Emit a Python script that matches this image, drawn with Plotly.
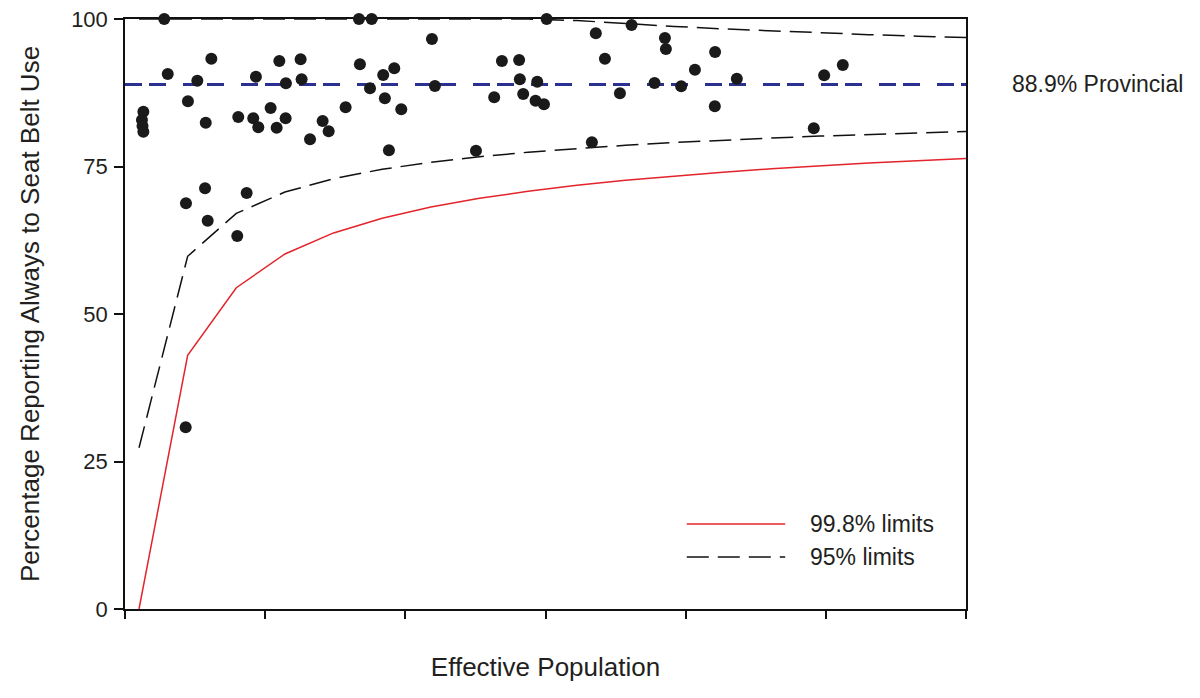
import plotly.graph_objects as go

# ---- data ----
# limit curves sampled along effective population
limit_n = [1, 4.47, 7.94, 11.41, 14.88, 18.35, 21.82, 25.29, 28.76, 32.24,
           35.71, 39.18, 42.65, 46.12, 49.59, 53.06, 56.53, 60]
lower_998 = [0, 42.99, 54.45, 60.17, 63.74, 66.24, 68.12, 69.60, 70.80, 71.81,
             72.66, 73.39, 74.04, 74.61, 75.12, 75.58, 75.99, 76.37]
lower_95 = [27.33, 59.78, 67.05, 70.67, 72.94, 74.53, 75.72, 76.66, 77.42, 78.06,
            78.60, 79.06, 79.47, 79.83, 80.16, 80.45, 80.71, 80.95]
upper_95 = [100, 100, 100, 100, 100, 100, 100, 100, 100, 99.74,
            99.20, 98.74, 98.33, 97.97, 97.64, 97.35, 97.09, 96.85]

provincial_x = [0, 60]
provincial_y = [88.9, 88.9]

# regions: effective population vs percentage always using seat belt
pop = [2.80, 3.05, 5.16, 6.16, 4.49, 5.76, 1.31, 1.21, 1.25, 1.31,
       8.08, 9.34, 9.15, 9.51, 10.39, 11.01, 11.48, 10.82, 11.46, 12.53,
       12.60, 13.20, 14.10, 14.53, 5.71, 4.35, 8.68, 5.90, 8.01, 4.33,
       16.69, 17.60, 21.90, 16.76, 18.42, 19.21, 17.48, 22.11, 18.54, 15.74,
       19.71, 18.83, 25.04, 30.08, 33.59, 36.14, 26.89, 28.12, 34.24, 28.17,
       29.41, 26.34, 28.41, 29.29, 29.89, 35.31, 33.31, 38.52, 38.59, 42.10,
       40.66, 37.78, 39.68, 43.65, 42.08, 49.88, 51.21, 49.14]
pct = [100.0, 90.68, 89.54, 93.27, 86.05, 82.42, 84.29, 82.88, 81.86, 80.90,
       83.39, 90.22, 83.17, 81.64, 84.92, 92.88, 89.10, 81.58, 83.17, 93.17,
       89.78, 79.61, 82.71, 80.97, 71.31, 68.76, 70.51, 65.81, 63.22, 30.80,
       100.0, 100.0, 96.61, 92.32, 90.51, 91.64, 88.25, 88.64, 86.56, 85.03,
       84.69, 77.75, 77.68, 100.0, 97.58, 98.98, 92.88, 93.05, 93.27, 89.78,
       89.37, 86.73, 87.29, 86.15, 85.54, 87.41, 79.10, 96.78, 94.92, 94.41,
       91.41, 89.15, 88.59, 89.88, 85.20, 90.46, 92.20, 81.47]

x_ticks = [0, 10, 20, 30, 40, 50, 60]
y_ticks = [0, 25, 50, 75, 100]

FONT = "Liberation Sans, Arial, Helvetica, sans-serif"
TXT = "#231f20"
RED = "#e3242b"
BLUE = "#2b3190"
DASH_BLACK = "22px,9px"

fig = go.Figure()

fig.add_trace(go.Scatter(x=limit_n, y=lower_998, mode="lines", name="99.8% limits",
                         line=dict(color=RED, width=1.5), showlegend=False))
fig.add_trace(go.Scatter(x=limit_n, y=lower_95, mode="lines", name="95% limits",
                         line=dict(color="#111111", width=1.5, dash=DASH_BLACK),
                         showlegend=False))
fig.add_trace(go.Scatter(x=limit_n, y=upper_95, mode="lines", name="95% limits upper",
                         line=dict(color="#111111", width=1.5, dash=DASH_BLACK),
                         showlegend=False))
fig.add_trace(go.Scatter(x=provincial_x, y=provincial_y, mode="lines", name="Provincial",
                         line=dict(color=BLUE, width=3, dash="17px,7px,17px,17px"),
                         showlegend=False))
fig.add_trace(go.Scatter(x=pop, y=pct, mode="markers", name="Regions",
                         marker=dict(color="#1a1a1a", size=12, line=dict(width=0)),
                         cliponaxis=False, showlegend=False))

# legend drawn manually (long line samples as in the reference)
fig.add_shape(type="line", xref="paper", yref="paper", x0=0.668, x1=0.785,
              y0=0.1441, y1=0.1441, line=dict(color=RED, width=1.5))
fig.add_shape(type="line", xref="paper", yref="paper", x0=0.668, x1=0.785,
              y0=0.0881, y1=0.0881, line=dict(color="#111111", width=1.5, dash=DASH_BLACK))
fig.add_annotation(xref="paper", yref="paper", x=0.812, y=0.1441, text="99.8% limits",
                   showarrow=False, xanchor="left", yanchor="middle",
                   font=dict(family=FONT, size=23, color=TXT))
fig.add_annotation(xref="paper", yref="paper", x=0.812, y=0.0881, text="95% limits",
                   showarrow=False, xanchor="left", yanchor="middle",
                   font=dict(family=FONT, size=23, color=TXT))
fig.add_annotation(xref="paper", yref="y", x=1.052, y=88.9, text="88.9% Provincial",
                   showarrow=False, xanchor="left", yanchor="middle",
                   font=dict(family=FONT, size=23, color=TXT))

# the page body has an 8px default margin, so the figure is sized to fit the window
fig.update_layout(
    width=1192, height=690,
    margin=dict(l=117, r=234, t=11, b=89, autoexpand=False),
    paper_bgcolor="white", plot_bgcolor="white",
    font=dict(family=FONT, color=TXT),
    showlegend=False,
    xaxis=dict(range=[0, 60], tickvals=x_ticks, showticklabels=False,
               ticks="outside", ticklen=8, tickwidth=1.5, tickcolor="#111",
               showline=True, linecolor="#111", linewidth=1.5, mirror=True,
               showgrid=False, zeroline=False, layer="below traces", automargin=False,
               title=dict(text="Effective Population", standoff=40,
                          font=dict(family=FONT, size=26, color=TXT))),
    yaxis=dict(range=[0, 100], tickvals=y_ticks,
               ticks="outside", ticklen=9, tickwidth=1.5, tickcolor="#111",
               ticklabelstandoff=2, automargin=False, ticklabeloverflow="allow",
               tickfont=dict(family=FONT, size=22, color=TXT),
               showline=True, linecolor="#111", linewidth=1.5, mirror=True,
               showgrid=False, zeroline=False, layer="below traces",
               title=dict(text="Percentage Reporting Always to Seat Belt Use", standoff=24,
                          font=dict(family=FONT, size=26, color=TXT))),
)

fig.write_html("out.html")
